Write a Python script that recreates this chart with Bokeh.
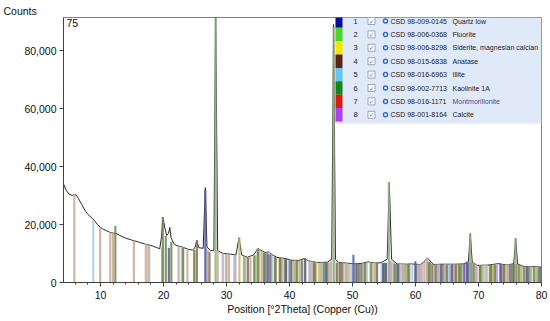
from bokeh.plotting import figure
from bokeh.models import ColumnDataSource, Label, SingleIntervalTicker, NumeralTickFormatter, Range1d
from bokeh.core.properties import value
from bokeh.embed import file_html
from bokeh.resources import INLINE

# ---------------- data ----------------
curve_x = [4.13, 4.5, 5.0, 5.5, 6.0, 6.5, 7.0, 7.5, 8.0, 8.5, 9.0, 9.5, 10.0, 10.5, 11.0, 11.5,
           12.0, 12.4, 13.0, 14.0, 15.0, 16.0, 17.0, 18.0, 19.0, 19.4, 19.7, 19.9, 20.2, 20.5,
           20.8, 21.0, 21.2, 21.6, 22.0, 23.0, 24.0, 24.6, 25.0, 25.3, 25.6, 26.3, 26.64, 26.9,
           27.5, 28.0, 28.28, 28.6, 29.0, 29.5, 30.5, 31.5, 32.0, 32.4, 33.3, 34.3, 35.0, 35.7,
           36.3, 36.7, 37.2, 38.0, 39.5, 40.2, 41.5, 42.4, 43.0, 44.4, 46.0, 46.7, 47.0, 47.3,
           47.8, 49.0, 50.2, 51.5, 52.5, 53.5, 54.5, 55.5, 55.85, 56.2, 57.1, 58.5, 59.2, 60.8,
           61.3, 61.9, 62.5, 62.9, 64.0, 66.0, 67.7, 68.4, 68.7, 69.0, 69.8, 71.5, 73.2, 74.5,
           75.6, 75.9, 76.2, 77.2, 78.5, 80.0]
curve_y = [34000, 32000, 30500, 30000, 30500, 29000, 27000, 25000, 23500, 22500, 21500, 20000,
           19000, 18300, 17800, 17300, 17000, 17000, 16300, 15300, 14600, 14000, 13300, 12800,
           12000, 11600, 16000, 22500, 19000, 16200, 17000, 19000, 15500, 13500, 12800, 12200,
           11400, 11200, 12000, 14500, 12000, 11800, 32700, 12200, 11000, 11000, 95000, 11000,
           10500, 10000, 9800, 9500, 15500, 9500, 8700, 9500, 11700, 10800, 10200, 10700, 9600,
           8700, 8200, 7700, 7600, 8300, 7500, 6900, 7000, 8000, 89000, 8000, 6900, 6700, 6400,
           6600, 7100, 6700, 6800, 8000, 34500, 8000, 6400, 6300, 6400, 6200, 7000, 8500, 7000,
           6200, 6300, 6300, 6400, 7200, 16900, 7000, 5900, 6000, 6500, 6000, 6500, 15200, 6400,
           5500, 5500, 5300]

phase_numbers = ["1", "2", "3", "4", "5", "6", "7", "8"]
phase_codes = ["98-009-0145", "98-006-0368", "98-006-8298", "98-015-6838",
               "98-016-6963", "98-002-7713", "98-016-1171", "98-001-8164"]
phase_names = ["Quartz low", "Fluorite", "Siderite, magnesian calcian", "Anatase",
               "Illite", "Kaolinite 1A", "Montmorillonite", "Calcite"]

quartz_pos = [20.86, 26.64, 36.54, 39.47, 40.30, 42.46, 45.80, 50.15, 50.64, 54.88, 55.34, 57.24,
              59.97, 64.04, 65.79, 67.75, 68.15, 68.32, 73.47, 75.66, 77.68, 79.89]
quartz_h = [12000, 32000, 10000, 8200, 7700, 8300, 7000, 9600, 6500, 6700, 6700, 6400,
            7300, 6300, 6200, 6400, 6800, 7000, 6400, 6400, 5600, 5300]
fluorite_pos = [28.27, 32.77, 47.01, 55.77, 58.55, 68.69, 75.87, 78.22]
fluorite_h = [91400, 9200, 88000, 34500, 6300, 16900, 15200, 5500]
siderite_pos = [24.85, 32.05, 34.60, 38.45, 40.70, 42.55, 44.70, 46.30, 49.40, 51.90, 52.85,
                57.90, 61.40, 64.90, 66.10, 68.75, 70.60, 72.30, 74.50, 76.70, 79.10]
siderite_h = [11200, 15500, 9400, 8600, 7600, 8100, 6800, 7000, 6500, 6700, 7100,
              6200, 7200, 6300, 6300, 7000, 6000, 6200, 6000, 5800, 5400]
anatase_pos = [25.30, 27.30, 33.40, 36.95, 37.80, 38.57, 43.90, 48.05, 51.40, 53.89, 55.06,
               58.80, 62.12, 62.69, 66.40, 68.76, 70.31, 72.60, 74.03, 75.03, 76.02, 78.00]
anatase_h = [14500, 10600, 8600, 9700, 8700, 8500, 6900, 6900, 6500, 6700, 6700,
             6300, 7000, 6400, 6300, 7000, 5900, 6300, 6200, 6300, 6400, 5500]
illite_pos = [8.85, 17.75, 19.85, 22.90, 26.75, 29.90, 31.20, 34.95, 36.70, 41.90, 45.35, 50.00,
              52.30, 53.40, 57.60, 60.40, 61.75, 63.80, 66.60, 71.00, 72.80, 74.90, 77.90,
              37.30, 43.30, 49.80, 54.60, 59.50, 65.20, 70.70, 73.90, 78.40]
illite_h = [21500, 12800, 12000, 12100, 12000, 9800, 9600, 11600, 10600, 7600, 6900, 6400,
            6900, 6700, 6400, 6200, 8200, 6300, 6300, 6000, 6400, 6200, 5500,
            9300, 7200, 6500, 6700, 6300, 6300, 5900, 6100, 5500]
kaolinite_pos = [12.36, 19.90, 20.37, 21.25, 23.12, 24.90, 34.98, 35.97, 37.72, 38.48, 39.30,
                 41.20, 45.45, 47.55, 51.05, 54.90, 55.20, 56.70, 59.00, 62.35, 63.20, 65.00,
                 67.20, 69.20, 70.20, 71.80, 73.60, 76.40, 78.80,
                 34.40, 36.20, 40.00, 42.00, 44.00, 46.00, 48.30, 52.00, 53.00, 57.00, 60.10,
                 64.30, 66.90, 72.00, 75.30, 77.20, 79.60]
kaolinite_h = [19500, 22500, 16000, 14000, 12100, 11300, 11700, 10300, 9000, 8600, 8100,
               7600, 6900, 6800, 6500, 6700, 6800, 6400, 6300, 7100, 6200, 6300,
               6300, 6600, 5900, 6100, 6400, 6300, 5400,
               9300, 10000, 7700, 7700, 6900, 6900, 6800, 6700, 6800, 6400, 6200,
               6300, 6300, 6100, 6400, 5600, 5300]
montmorillonite_pos = [5.85, 9.95, 11.55, 12.00, 15.30, 17.20, 17.60, 19.80, 28.60, 30.40, 33.80,
                       35.20, 40.90, 43.60, 44.20, 48.90, 50.80, 53.90, 56.20, 58.00, 61.90,
                       63.60, 65.50, 67.00, 69.70, 72.00, 74.20, 76.80, 79.50,
                       22.40, 23.80, 27.00, 30.00, 35.60, 38.90, 41.60, 45.00, 47.90, 50.40,
                       53.60, 58.30, 60.60, 64.60, 67.50, 71.30, 75.50, 77.50]
montmorillonite_h = [30500, 19000, 17300, 17000, 14500, 13300, 13000, 12000, 11000, 9700, 9000,
                     11600, 7600, 7300, 7100, 6700, 6500, 6700, 7200, 6300, 8500,
                     6200, 6300, 6300, 5900, 6000, 6000, 5600, 5300,
                     12600, 11400, 11300, 9700, 10800, 8400, 7600, 6900, 6800, 6400,
                     6700, 6300, 6200, 6300, 6300, 6000, 6400, 5500]
calcite_pos = [23.06, 29.41, 31.42, 35.97, 39.42, 43.16, 47.12, 47.52, 48.52, 56.58, 57.42,
               58.10, 60.68, 61.00, 63.08, 64.69, 65.64, 69.20, 70.25, 72.95, 73.70,
               33.00, 37.00, 41.00, 46.60, 49.10, 51.70, 56.00, 63.40, 66.20, 69.50, 74.70, 79.30]
calcite_h = [12200, 10000, 9500, 10300, 8200, 7500, 8000, 6900, 6900, 7000, 6400,
             6300, 6200, 6400, 6200, 6300, 6300, 6800, 5900, 6400, 6200,
             8900, 9600, 7600, 7300, 6600, 6600, 7500, 6200, 6300, 6600, 6100, 5300]

x_ticks_interval = 10
y_ticks_interval = 20000

# ---------------- styles ----------------
legend_colors = ["#0a0a9a", "#48d828", "#f4e800", "#5a2410", "#62c6f0", "#10881a", "#d81c10", "#b040f0"]
stick_colors = ["#5a5aa0", "#92b07e", "#c4bc62", "#8a6e5c", "#a8cce0", "#6e8a52", "#c9a892", "#c0a2cc"]

X0, X1 = 4.13, 80.0
Y0, Y1 = 0.0, 91400.0
FW, FH = 478.0, 265.0


def fx(px):
    return X0 + px * (X1 - X0) / FW


def fy(py):
    return Y1 - py * (Y1 - Y0) / FH


p = figure(width=550, height=321, x_range=Range1d(X0, X1), y_range=Range1d(Y0, Y1),
           output_backend="svg", toolbar_location=None,
           min_border_left=63, min_border_right=9, min_border_top=17, min_border_bottom=39)
p.background_fill_color = "white"
p.border_fill_color = "white"
p.outline_line_color = "#808080"
p.outline_line_width = 1
p.xgrid.visible = False
p.ygrid.visible = False

p.title.text = "Counts"
p.title.align = "left"
p.title.offset = -60
p.title.standoff = 2
p.title.text_font = "Liberation Sans"
p.title.text_font_size = "10.5px"
p.title.text_font_style = "normal"
p.title.text_color = "#111111"

# measured scan
p.line(curve_x, curve_y, line_color="#2a2a2a", line_width=1)

# reference sticks
phases = [(quartz_pos, quartz_h), (fluorite_pos, fluorite_h), (siderite_pos, siderite_h),
          (anatase_pos, anatase_h), (illite_pos, illite_h), (kaolinite_pos, kaolinite_h),
          (montmorillonite_pos, montmorillonite_h), (calcite_pos, calcite_h)]
order = [4, 6, 7, 2, 3, 5, 0, 1]
for i in order:
    pos, h = phases[i]
    src = ColumnDataSource(dict(x=pos, y0=[0] * len(pos), y1=h))
    p.segment(x0="x", y0="y0", x1="x", y1="y1", source=src, line_color=stick_colors[i],
              line_width=2.2, line_alpha=0.85)

# axes
p.xaxis.ticker = SingleIntervalTicker(interval=x_ticks_interval, num_minor_ticks=5)
p.yaxis.ticker = SingleIntervalTicker(interval=y_ticks_interval, num_minor_ticks=0)
p.yaxis.formatter = NumeralTickFormatter(format="0,0")
for ax in (p.xaxis[0], p.yaxis[0]):
    ax.major_label_text_font = "Liberation Sans"
    ax.major_label_text_font_size = "10.5px"
    ax.major_label_text_color = "#111111"
    ax.axis_line_color = "#404040"
    ax.major_tick_line_color = "#404040"
    ax.minor_tick_line_color = "#404040"
    ax.major_tick_in = 0
    ax.major_tick_out = 4
    ax.minor_tick_in = 0
    ax.minor_tick_out = 2
p.yaxis.minor_tick_line_color = None
p.xaxis.major_label_standoff = 4
p.yaxis.major_label_standoff = 3
p.xaxis.axis_label = "Position [°2Theta] (Copper (Cu))"
p.xaxis.axis_label_text_font = "Liberation Sans"
p.xaxis.axis_label_text_font_size = "10.5px"
p.xaxis.axis_label_text_font_style = "normal"
p.xaxis.axis_label_text_color = "#111111"
p.xaxis.axis_label_standoff = 1

p.add_layout(Label(x=fx(3), y=fy(1), text="75", text_font="Liberation Sans",
                   text_font_size="10.5px", text_color="#111111", text_baseline="top",
                   text_align="left"))

# legend panel
p.quad(left=[fx(272)], right=[fx(478)], top=[fy(0)], bottom=[fy(106)],
       fill_color="#dfe9f8", line_color=None)
p.quad(left=[fx(272)], right=[fx(279)], top=[fy(100)], bottom=[fy(106)],
       fill_color="#ffc8f0", line_color=None)
row_h = 13.4
rows_py = [3.5 + row_h * k for k in range(8)]
p.quad(left=[fx(272)] * 8, right=[fx(279)] * 8,
       top=[fy(py - row_h / 2) for py in rows_py], bottom=[fy(py + row_h / 2) for py in rows_py],
       fill_color=legend_colors, line_color=None)
ly = [fy(py) for py in rows_py]
fnt = value("Liberation Sans")
p.text(x=[fx(292)] * 8, y=ly, text=phase_numbers, text_font=fnt, text_font_size=value("7.5px"),
       text_color="#202030", text_align="center", text_baseline="middle")
p.scatter(x=[fx(308)] * 8, y=ly, marker="square", size=7, fill_color="white",
          line_color="#9aa6b6", line_width=1)
p.text(x=[fx(308)] * 8, y=ly, text=["✓"] * 8, text_font=value("DejaVu Sans"),
       text_font_size=value("6px"), text_color="#3a5a9a", text_align="center",
       text_baseline="middle")
p.scatter(x=[fx(322)] * 8, y=ly, marker="circle", size=4, fill_color="white",
          line_color="#2c6cd0", line_width=1.5)
p.text(x=[fx(327)] * 8, y=ly, text=["CSD " + c for c in phase_codes], text_font=fnt,
       text_font_size=value("7px"), text_color="#202030", text_align="left",
       text_baseline="middle")
name_colors = ["#202030"] * 6 + ["#3a50a0", "#202030"]
p.text(x=[fx(389)] * 8, y=ly, text=phase_names, text_font=fnt, text_font_size=value("7px"),
       text_color=name_colors, text_align="left", text_baseline="middle")

open("out.html", "w").write(file_html(p, INLINE))
